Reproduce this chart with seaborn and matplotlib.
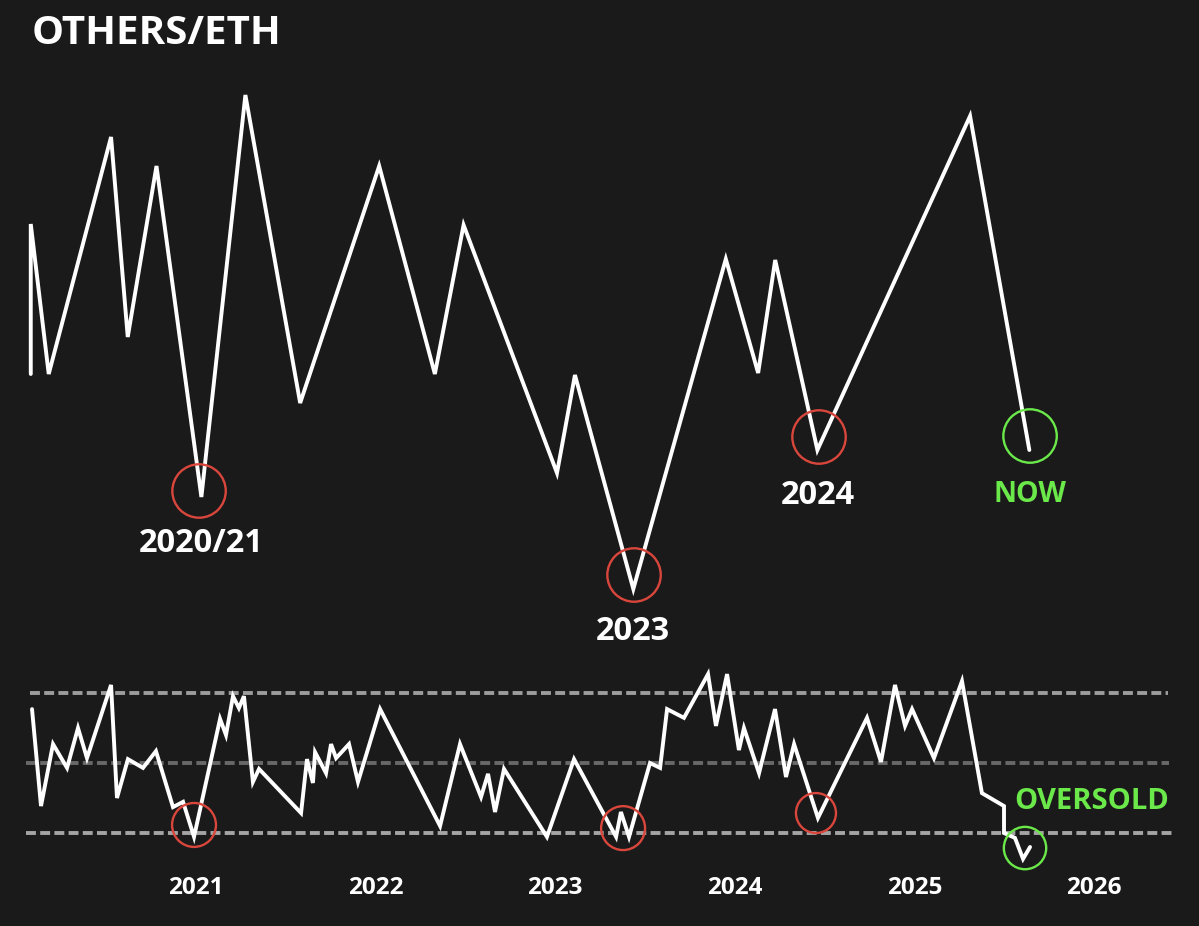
import matplotlib
matplotlib.use("Agg")
import matplotlib.pyplot as plt
import seaborn as sns
import pandas as pd

# OTHERS/ETH ratio (index units)
ratio_years = [2020.08, 2020.08, 2020.18, 2020.527, 2020.62, 2020.78, 2021.03, 2021.275, 2021.58,
               2022.02, 2022.33, 2022.49, 2023.01, 2023.11, 2023.435, 2023.95, 2024.13, 2024.225,
               2024.46, 2025.31, 2025.64]
ratio_values = [2.26, 3.76, 2.26, 4.63, 2.63, 4.34, 1.03, 5.05, 1.97,
                4.34, 2.26, 3.75, 1.27, 2.25, 0.11, 3.41, 2.27, 3.40,
                1.50, 4.84, 1.50]

# RSI panel
rsi_years = [2020.087, 2020.137, 2020.204, 2020.282, 2020.343, 2020.393, 2020.527, 2020.560,
             2020.621, 2020.705, 2020.777, 2020.872, 2020.928, 2020.989, 2021.134, 2021.167,
             2021.206, 2021.239, 2021.267, 2021.317, 2021.351, 2021.585, 2021.618, 2021.651,
             2021.663, 2021.724, 2021.752, 2021.780, 2021.852, 2021.902, 2022.025, 2022.359,
             2022.470, 2022.587, 2022.626, 2022.665, 2022.715, 2022.954, 2023.105, 2023.339,
             2023.366, 2023.411, 2023.528, 2023.584, 2023.623, 2023.717, 2023.851, 2023.895,
             2023.957, 2024.023, 2024.051, 2024.135, 2024.224, 2024.285, 2024.330, 2024.463,
             2024.736, 2024.814, 2024.892, 2024.948, 2024.987, 2025.109, 2025.265, 2025.376,
             2025.499, 2025.499, 2025.560, 2025.605, 2025.644]
rsi_values = [65.4, 37.7, 55.4, 48.6, 60.0, 51.4, 72.3, 40.0,
              51.1, 48.6, 53.4, 37.4, 38.9, 28.9, 62.6, 58.0,
              69.1, 65.7, 69.1, 44.6, 48.3, 35.7, 51.1, 44.3,
              53.1, 47.1, 55.4, 51.4, 55.4, 44.6, 65.4, 32.0,
              55.4, 40.3, 46.9, 36.0, 48.3, 28.9, 51.1, 28.9,
              36.0, 28.9, 50.0, 48.6, 65.4, 62.9, 75.4, 60.6,
              75.4, 53.7, 60.0, 47.1, 65.4, 46.0, 55.4, 34.3,
              62.9, 50.3, 72.3, 60.6, 65.4, 51.4, 73.4, 41.4,
              37.7, 30.0, 28.6, 22.6, 26.0]

tick_years = [2021, 2022, 2023, 2024, 2025, 2026]
title_text = "OTHERS/ETH"

top_labels = ["2020/21", "2023", "2024", "NOW"]
top_label_x = [2021.028, 2023.433, 2024.463, 2025.644]
top_label_y = [0.57, -0.31, 1.04, 1.06]

top_circle_x = [2021.017, 2023.439, 2024.469, 2025.644]
top_circle_y = [1.09, 0.25, 1.63, 1.64]
rsi_circle_x = [2020.989, 2023.378, 2024.452, 2025.616]
rsi_circle_y = [32.3, 31.4, 35.7, 25.7]

BG = "#1a1a1a"
RED = "#d9463c"
GREEN = "#6be84a"
FONT = ["Open Sans", "DejaVu Sans"]

sns.set_theme(style="dark")
plt.rcParams["font.family"] = FONT

W, H = 1199, 926
fig = plt.figure(figsize=(W / 100, H / 100), dpi=100, facecolor=BG)
XLIM = (2019.9087, 2026.5847)
ax_top = fig.add_axes([0, 1 - 660 / H, 1, 660 / H], facecolor=BG)
ax_rsi = fig.add_axes([0, 0, 1, 266 / H], facecolor=BG)

line_kw = dict(color="white", linewidth=2.8, sort=False, estimator=None, errorbar=None,
               solid_joinstyle="miter")

sns.lineplot(data=pd.DataFrame({"year": ratio_years, "value": ratio_values}),
             x="year", y="value", ax=ax_top, **line_kw)
ax_top.set_xlim(*XLIM)
ax_top.set_ylim(-0.6, 6.0)

for lvl, c, x0, x1 in [(70, "#9c9c9c", 2020.075, 2026.41),
                       (50, "#686868", 2020.055, 2026.42),
                       (30, "#a4a4a4", 2020.055, 2026.44)]:
    ax_rsi.plot([x0, x1], [lvl, lvl], color=c, linewidth=2.8, dashes=(2.55, 1.1),
                dash_capstyle="butt", zorder=1)

sns.lineplot(data=pd.DataFrame({"year": rsi_years, "value": rsi_values}),
             x="year", y="value", ax=ax_rsi, zorder=3, **line_kw)
ax_rsi.set_xlim(*XLIM)
ax_rsi.set_ylim(3.43, 79.43)

# circles
colors = [RED, RED, RED, GREEN]
ax_top.scatter(top_circle_x, top_circle_y, s=1480, facecolors="none", edgecolors=colors,
               linewidths=1.7, zorder=4)
ax_rsi.scatter(rsi_circle_x, rsi_circle_y, s=[1000, 1000, 830, 930], facecolors="none",
               edgecolors=colors, linewidths=1.7, zorder=4)

# labels
for t, x, y in zip(top_labels, top_label_x, top_label_y):
    ax_top.text(x, y, t, color=GREEN if t == "NOW" else "white", fontsize=23.5 if t != "NOW" else 20.5,
                fontweight="bold", ha="center", va="center")
ax_rsi.text(2025.989, 38.9, "OVERSOLD", color=GREEN, fontsize=21, fontweight="bold",
            ha="center", va="center")

fig.text(32 / W, 1 - 34 / H, title_text, color="white", fontsize=29, fontweight="bold",
         ha="left", va="center")

for ax in (ax_top, ax_rsi):
    ax.set_xlabel("")
    ax.set_ylabel("")
    ax.grid(False)
    sns.despine(ax=ax, left=True, bottom=True, right=True, top=True)
    ax.set_yticks([])

ax_top.set_xticks([])
ax_rsi.set_xticks(tick_years)
ax_rsi.set_xticklabels([str(y) for y in tick_years], color="white", fontsize=17.5, fontweight="bold")
for lab in ax_rsi.get_xticklabels():
    lab.set_y(41 / 266)
    lab.set_va("center")
ax_rsi.tick_params(axis="x", length=0, pad=2.2)

fig.savefig("out.png", dpi=100, facecolor=BG)
